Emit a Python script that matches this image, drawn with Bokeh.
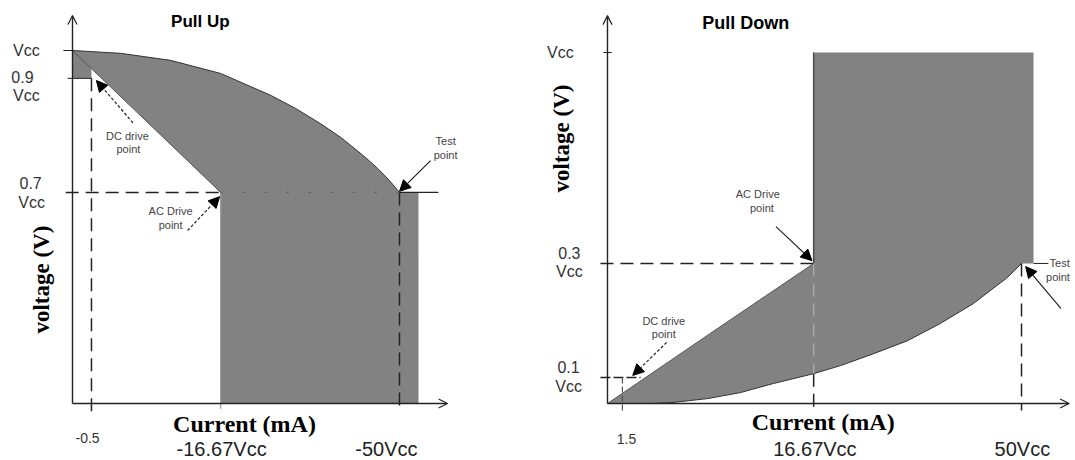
from bokeh.plotting import figure
from bokeh.models import Range1d, ColumnDataSource, Arrow, NormalHead, OpenHead
from bokeh.layouts import row
from bokeh.core.properties import value
from bokeh.embed import file_html
from bokeh.resources import INLINE
import math

# ---------------- DATA (schematic units) ----------------
# x: position along the current axis (test point = 100); y: voltage (Vcc = 100)

# Pull Up
pu_curve_x = [0, 14.7, 30.0, 45.3, 60.6, 68.2, 75.8, 82.0, 85.9, 89.6, 93.3, 96.9, 100]
pu_curve_y = [100, 99.2, 97.2, 93.5, 87.3, 83.6, 79.3, 75.4, 72.5, 69.7, 66.6, 63.2, 59.8]
pu_levels = [100, 92.1, 59.8]                 # Vcc, 0.9 Vcc, 0.7 Vcc
pu_level_labels = [["Vcc"], ["0.9", "Vcc"], ["0.7", "Vcc"]]
pu_x_ticks = [5.8, 45.3, 100]                 # -0.5, -16.67Vcc, -50Vcc
pu_x_tick_labels = ["-0.5", "-16.67Vcc", "-50Vcc"]
pu_i_limit = 105.8                            # right edge of the pull-up region
pu_diag_at_dc = 94.9                          # DC/AC line value at the -0.5 point

# Pull Down
pd_upper_x = [0, 25.0, 49.8]
pd_upper_y = [0, 20.1, 39.9]
pd_lower_x = [100, 96.6, 88.4, 80.4, 72.5, 64.3, 56.3, 49.8, 40.1, 32.1, 24.2, 15.9, 11.1]
pd_lower_y = [39.9, 35.9, 28.5, 22.8, 17.9, 14.2, 10.8, 8.5, 5.7, 3.1, 1.4, 0.3, 0]
pd_levels = [100, 39.9, 7.4]                  # Vcc, 0.3 Vcc, 0.1 Vcc
pd_level_labels = [["Vcc"], ["0.3", "Vcc"], ["0.1", "Vcc"]]
pd_x_ticks = [3.6, 49.8, 100]                 # 1.5, 16.67Vcc, 50Vcc
pd_x_tick_labels = ["1.5", "16.67Vcc", "50Vcc"]
pd_i_limit = 102.9

GRAY = "#828282"
INK = "#222222"
SANS = "Liberation Sans"
SERIF = "Liberation Serif"


def make_fig(w, xr, yr):
    p = figure(width=w, height=460, x_range=Range1d(*xr), y_range=Range1d(*yr),
               output_backend="svg", toolbar_location=None,
               x_axis_type=None, y_axis_type=None, min_border=0,
               outline_line_color=None, background_fill_color="white",
               border_fill_color="white")
    p.grid.visible = False
    return p


def txt(p, xs, ys, texts, size, color=INK, font=SANS, style="normal", angle=0.0,
        align="center", baseline="middle"):
    src = ColumnDataSource(dict(x=xs, y=ys, t=texts))
    p.text(x="x", y="y", text="t", source=src, text_font=value(font),
           text_font_size=value(f"{size}px"), text_font_style=style,
           text_color=color, angle=angle, text_align=align, text_baseline=baseline)


def arrow(p, x0, y0, x1, y1, head, dash="solid", width=1.2, color=INK):
    p.add_layout(Arrow(end=head, x_start=x0, y_start=y0, x_end=x1, y_end=y1,
                       line_color=color, line_width=width, line_dash=dash))


def filled():
    return NormalHead(size=11, fill_color="black", line_color="black")


def open_head():
    return OpenHead(size=9, line_color=INK, line_width=1.2)


DASH = "13 7"

# ============================ PULL UP ============================
p1 = make_fig(540, (-22.02, 143.12), (-16.15, 114.16))
vcc, v09, v07 = pu_levels
i_dc, i_ac, i_test = pu_x_ticks

# shaded region
px = list(pu_curve_x) + [pu_i_limit, pu_i_limit, i_ac, i_ac, i_dc, i_dc, 0]
py = list(pu_curve_y) + [v07, 0, 0, v07, pu_diag_at_dc, v09, v09]
p1.patch(px, py, fill_color=GRAY, line_color=None)
p1.line(pu_curve_x, pu_curve_y, line_color="#333333", line_width=1)
p1.line([0, i_ac], [vcc, v07], line_color="#555555", line_width=1)
p1.line([i_ac, i_ac], [v07, -1.5], line_color="#9a9a9a", line_width=1.2)

# axes
arrow(p1, 0, 0, 114.7, 0, open_head(), width=1.4)
arrow(p1, 0, 0, 0, 109.9, open_head(), width=1.4)

# level lines / ticks
p1.line([-2.8, 0], [vcc, vcc], line_color=INK, line_width=1.2)
p1.line([-1.5, i_dc], [v09, v09], line_color=INK, line_width=1)
p1.line([-2.1, i_ac], [v07, v07], line_color=INK, line_width=1.5, line_dash=DASH)
p1.line([i_ac, i_test], [v07, v07], line_color="#5a5a5a", line_width=1.2, line_dash="2 20")
p1.line([i_test, 111.9], [v07, v07], line_color=INK, line_width=1.2)
p1.line([i_dc, i_dc], [v09, -2.5], line_color=INK, line_width=1.5, line_dash=DASH)
p1.line([i_test, i_test], [v07, -2.5], line_color=INK, line_width=1.5, line_dash=DASH)

# annotation arrows
arrow(p1, 18.5, 79.5, 7.3, 91.5, filled(), dash="3 2", width=1.2)
arrow(p1, 35.2, 49.0, 45.0, 58.6, filled(), dash="3 2", width=1.2)
arrow(p1, 109.5, 68.8, 100.0, 60.1, filled(), width=1.2)

# annotation texts
txt(p1, [16.8, 17.1], [75.9, 72.2], ["DC drive", "point"], 11, color="#444444")
txt(p1, [30.0, 30.0], [54.4, 50.7], ["AC Drive", "point"], 11, color="#444444")
txt(p1, [114.1, 114.1], [74.5, 70.5], ["Test", "point"], 11, color="#444444")

# level labels
txt(p1, [-14.1], [vcc], pu_level_labels[0], 16, color="#333333")
txt(p1, [-15.3, -14.1], [92.4, 87.3], pu_level_labels[1], 16, color="#333333")
txt(p1, [-12.8, -12.5], [62.6, 56.9], pu_level_labels[2], 16, color="#333333")

# x tick labels
txt(p1, [4.6], [-9.9], pu_x_tick_labels[:1], 14, color="#333333")
txt(p1, [45.6, 96.0], [-13.0, -13.0], pu_x_tick_labels[1:], 20, color="#222222")

# titles
txt(p1, [39.1], [108.2], ["Pull Up"], 17, color="black", style="bold")
txt(p1, [52.6], [-5.7], ["Current (mA)"], 24, color="black", font=SERIF, style="bold")
txt(p1, [-9.5], [35.1], ["voltage (V)"], 23, color="black", font=SERIF, style="bold",
    angle=math.pi / 2)

# ============================ PULL DOWN ============================
p2 = make_fig(535, (-16.18, 113.04), (-16.24, 114.81))
vcc2, v03, v01 = pd_levels
i15, i1667, i50 = pd_x_ticks

qx = list(pd_upper_x) + [i1667, pd_i_limit, pd_i_limit] + list(pd_lower_x)
qy = list(pd_upper_y) + [vcc2, vcc2, v03] + list(pd_lower_y)
p2.patch(qx, qy, fill_color=GRAY, line_color=None)
p2.line(pd_lower_x, pd_lower_y, line_color="#333333", line_width=1)
p2.line(pd_upper_x, pd_upper_y, line_color="#555555", line_width=1)
p2.line([i1667, i1667], [v03, vcc2], line_color="#4a4a4a", line_width=1.5)

# axes
arrow(p2, 0, 0, 111.5, 0, open_head(), width=1.4)
arrow(p2, 0, 0, 0, 110.5, open_head(), width=1.4)

# level lines / ticks
p2.line([-1.0, 1.0], [vcc2, vcc2], line_color=INK, line_width=1.2)
p2.line([-1.7, i1667], [v03, v03], line_color=INK, line_width=1.5, line_dash=DASH)
p2.line([-1.7, 8.0], [v01, v01], line_color=INK, line_width=1.5, line_dash="10 3")
p2.line([i15, i15], [v01, -2.0], line_color="#555555", line_width=1.2, line_dash="6 3")
p2.line([i1667, i1667], [v03, 8.5], line_color="#a8a8a8", line_width=1.5, line_dash=DASH)
p2.line([i1667, i1667], [8.5, -2.0], line_color=INK, line_width=1.5, line_dash=DASH)
p2.line([i50, i50], [v03, -2.0], line_color=INK, line_width=1.5, line_dash=DASH)
p2.line([pd_i_limit, 106.5], [v03, v03], line_color=INK, line_width=1)

# annotation arrows
arrow(p2, 40.7, 50.4, 49.4, 40.7, filled(), width=1.2)
arrow(p2, 14.3, 17.4, 6.1, 8.0, filled(), dash="3 2", width=1.2)
arrow(p2, 109.5, 27.1, 101.0, 39.0, filled(), width=1.2)

# annotation texts
txt(p2, [36.3, 37.3], [59.8, 55.8], ["AC Drive", "point"], 11, color="#444444")
txt(p2, [13.6, 13.6], [23.6, 19.7], ["DC drive", "point"], 11, color="#444444")
txt(p2, [109.2, 108.8], [39.9, 35.9], ["Test", "point"], 11, color="#444444")

# level labels
txt(p2, [-11.4], [vcc2], pd_level_labels[0], 16, color="#333333")
txt(p2, [-9.2, -9.2], [43.0, 37.6], pd_level_labels[1], 16, color="#333333")
txt(p2, [-9.4, -9.4], [10.5, 4.8], pd_level_labels[2], 16, color="#333333")

# x tick labels
txt(p2, [4.6], [-10.0], pd_x_tick_labels[:1], 14, color="#333333")
txt(p2, [50.1, 100.2], [-13.1, -13.1], pd_x_tick_labels[1:], 20, color="#222222")

# titles
txt(p2, [33.4], [108.5], ["Pull Down"], 18, color="black", style="bold")
txt(p2, [52.1], [-5.4], ["Current (mA)"], 24, color="black", font=SERIF, style="bold")
txt(p2, [-11.1], [75.5], ["voltage (V)"], 23, color="black", font=SERIF, style="bold",
    angle=math.pi / 2)

layout = row(p1, p2)
open("out.html", "w").write(file_html(layout, INLINE))
